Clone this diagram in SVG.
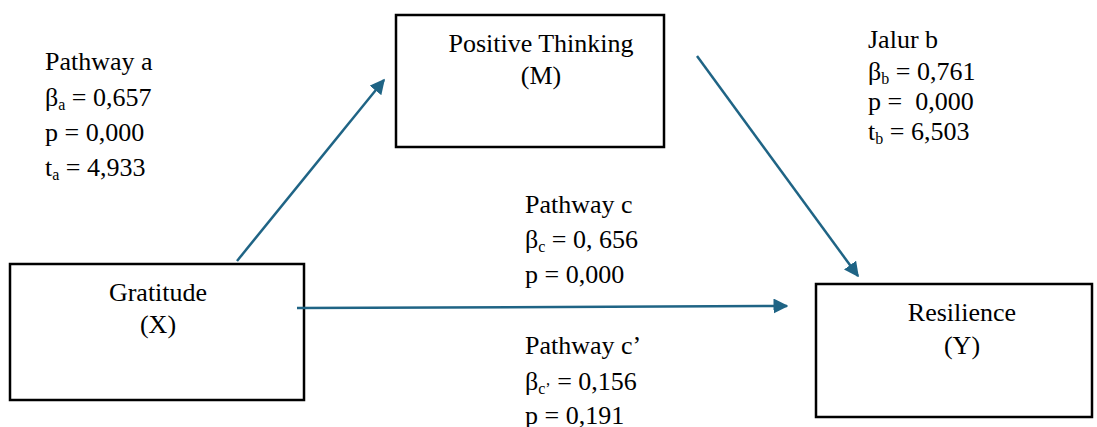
<svg xmlns="http://www.w3.org/2000/svg" width="1097" height="427" viewBox="0 0 1097 427">
<style>
.box{fill:#fff;stroke:#000;stroke-width:2.5}
.c{text-anchor:middle}
.s{font-size:16px}
.conn{stroke:#1f6485;stroke-width:2.5;fill:none;marker-end:url(#ah)}
</style>
<defs>
<marker id="ah" viewBox="0 0 10 10" refX="9" refY="5" markerWidth="6" markerHeight="6" markerUnits="strokeWidth" orient="auto">
<path d="M0,0 L10,5 L0,10 Z" fill="#1f6485"/>
</marker>
</defs>
<rect width="1097" height="427" fill="#fff"/>
<g font-family="'Liberation Serif', 'DejaVu Serif', serif" font-size="26" fill="#000">
<g id="node-m">
<rect class="box" x="396" y="15" width="268" height="132"/>
<text class="c" x="541" y="52">Positive Thinking</text>
<text class="c" x="541" y="84">(M)</text>
</g>
<g id="node-x">
<rect class="box" x="10" y="264" width="294" height="136"/>
<text class="c" x="158" y="301">Gratitude</text>
<text class="c" x="158" y="333">(X)</text>
</g>
<g id="node-y">
<rect class="box" x="816" y="284" width="276" height="133"/>
<text class="c" x="962" y="321">Resilience</text>
<text class="c" x="962" y="354">(Y)</text>
</g>
<g id="connectors">
<line class="conn" x1="237" y1="261" x2="384" y2="80"/>
<line class="conn" x1="697" y1="56" x2="858" y2="276"/>
<line class="conn" x1="297" y1="308" x2="787" y2="306"/>
</g>
<g id="labels">
<text x="45" y="70">Pathway a</text>
<text x="45" y="106">β<tspan class="s" dy="4">a</tspan><tspan dy="-4"> = 0,657</tspan></text>
<text x="45" y="141">p = 0,000</text>
<text x="45" y="176">t<tspan class="s" dy="4">a</tspan><tspan dy="-4"> = 4,933</tspan></text>
<text x="868" y="48">Jalur b</text>
<text x="868" y="80">β<tspan class="s" dy="4">b</tspan><tspan dy="-4"> = 0,761</tspan></text>
<text x="868" y="110" xml:space="preserve">p =  0,000</text>
<text x="868" y="140">t<tspan class="s" dy="4">b</tspan><tspan dy="-4"> = 6,503</tspan></text>
<text x="525" y="213">Pathway c</text>
<text x="525" y="248">β<tspan class="s" dy="4">c</tspan><tspan dy="-4"> = 0, 656</tspan></text>
<text x="525" y="283">p = 0,000</text>
<text x="525" y="354">Pathway c’</text>
<text x="525" y="390">β<tspan class="s" dy="4">c’</tspan><tspan dy="-4"> = 0,156</tspan></text>
<text x="525" y="424">p = 0,191</text>
</g>
</g>
</svg>
